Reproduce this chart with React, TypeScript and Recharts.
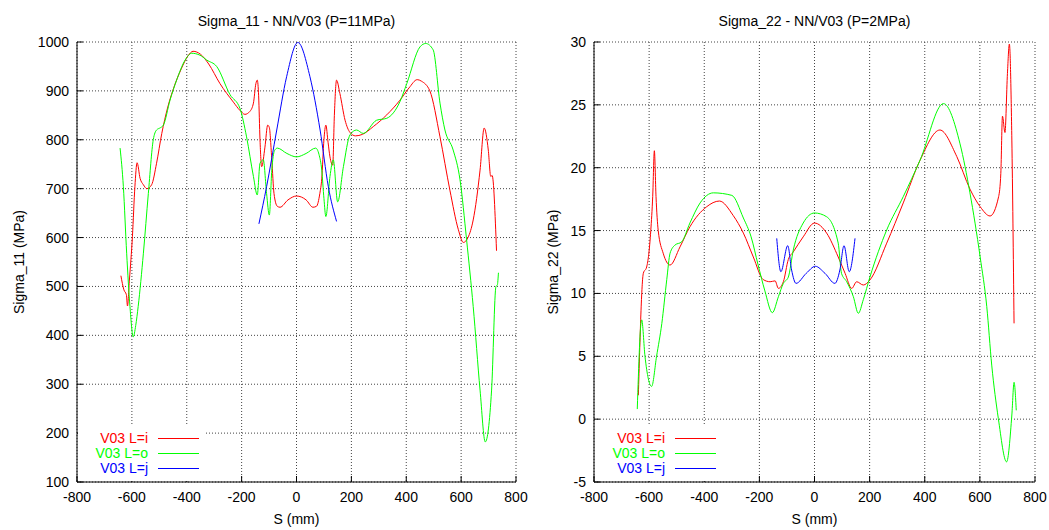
import { LineChart, Line, XAxis, YAxis, CartesianGrid } from "recharts"

const S_TICKS = [-800, -600, -400, -200, 0, 200, 400, 600, 800]
const SIGMA11_TICKS = [100, 200, 300, 400, 500, 600, 700, 800, 900, 1000]
const SIGMA22_TICKS = [-5, 0, 5, 10, 15, 20, 25, 30]

// Sigma_11 (MPa) against S (mm)
const s11_i = [
  [-640, 522], [-629, 493], [-620, 483], [-616, 460], [-609, 513], [-598, 602], [-589, 704], [-581, 753],
  [-570, 721], [-558, 708], [-545, 700], [-528, 708], [-510, 752], [-491, 813], [-470, 865], [-450, 902],
  [-420, 945], [-395, 972], [-377, 981], [-350, 975], [-320, 955], [-279, 915], [-230, 877], [-206, 860],
  [-188, 852], [-170, 858], [-157, 875], [-148, 915], [-143, 922], [-138, 890], [-133, 800], [-127, 745],
  [-115, 785], [-105, 830], [-99, 825], [-90, 759], [-82, 690], [-70, 664], [-60, 662], [-31, 677],
  [0, 685], [35, 677], [60, 662], [73, 664], [85, 690], [92, 720], [100, 800], [107, 830], [115, 795],
  [122, 765], [132, 748], [138, 850], [146, 922], [158, 895], [177, 840], [195, 815], [215, 808],
  [240, 811], [280, 827], [329, 851], [377, 881], [410, 906], [440, 923], [455, 920], [486, 900],
  [523, 806], [559, 697], [590, 616], [608, 590], [625, 600], [644, 636], [669, 738], [684, 824],
  [699, 779], [708, 725], [713, 727], [729, 573],
]
const s11_o = [
  [-643, 783], [-631, 704], [-619, 568], [-607, 459], [-595, 397], [-586, 420], [-577, 459], [-558, 568],
  [-540, 690], [-522, 800], [-510, 820], [-495, 825], [-485, 830], [-461, 881], [-437, 922], [-406, 963],
  [-382, 977], [-352, 973], [-327, 963], [-291, 950], [-242, 892], [-206, 864], [-182, 806], [-157, 725],
  [-143, 687], [-133, 752], [-121, 759], [-109, 690], [-99, 646], [-90, 738], [-80, 778], [-70, 783],
  [-35, 772], [0, 765], [35, 772], [70, 783], [82, 770], [92, 738], [100, 680], [107, 643], [122, 725],
  [134, 759], [150, 673], [171, 745], [195, 810], [219, 820], [243, 813], [292, 840], [329, 844],
  [377, 878], [402, 915], [450, 990], [471, 997], [498, 984], [523, 875], [541, 820], [571, 779],
  [596, 718], [620, 595], [644, 459], [669, 288], [688, 182], [711, 288], [727, 500], [732, 503], [736, 528],
]
const s11_j = [
  [-137, 628], [-109, 704], [-72, 820], [-36, 929], [5, 999], [49, 929], [86, 820], [116, 704], [146, 633],
]

// Sigma_22 (MPa) against S (mm)
const s22_i = [
  [-639, 1.9], [-621, 11.6], [-609, 12.1], [-594, 15.0], [-587, 17.7], [-581, 21.35], [-575, 17.7],
  [-567, 15.0], [-549, 13.2], [-524, 12.26], [-488, 13.7], [-452, 15.3], [-391, 16.9], [-345, 17.35],
  [-295, 16.2], [-258, 14.8], [-222, 12.9], [-186, 11.1], [-161, 10.93], [-143, 11.0], [-131, 10.4],
  [-113, 10.93], [-95, 12.7], [-77, 13.3], [-41, 14.5], [0, 15.6], [44, 14.8], [86, 12.9], [111, 11.6],
  [135, 10.4], [153, 10.93], [177, 10.67], [201, 11.07], [262, 14.0], [322, 17.2], [383, 20.6],
  [455, 23.0], [516, 20.9], [564, 18.3], [601, 16.9], [637, 16.16], [668, 17.7], [676, 19.55],
  [682, 24.1], [691, 22.8], [700, 27.5], [707, 29.84], [716, 22.2], [724, 7.62],
]
const s22_o = [
  [-643, 0.8], [-627, 7.9], [-615, 5.0], [-591, 2.6], [-573, 5.0], [-554, 7.6], [-536, 11.1],
  [-524, 13.2], [-506, 13.85], [-482, 14.1], [-452, 15.6], [-415, 17.2], [-367, 18.0], [-300, 17.8],
  [-258, 16.0], [-230, 14.5], [-205, 12.3], [-180, 10.2], [-153, 8.47], [-131, 9.74], [-113, 10.8],
  [-95, 11.3], [-77, 13.45], [-41, 15.6], [0, 16.4], [44, 16.1], [86, 14.0], [98, 11.6], [117, 10.93],
  [141, 9.74], [159, 8.42], [177, 9.5], [201, 11.3], [262, 15.05], [322, 17.7], [383, 20.6],
  [468, 25.1], [528, 21.9], [564, 18.0], [601, 12.9], [625, 8.95], [643, 4.3], [667, 0.05],
  [697, -3.4], [716, 0.33], [724, 2.93], [732, 0.7],
]
const s22_j = [
  [-137, 14.38], [-122, 11.73], [-97, 13.8], [-83, 11.86], [-67, 10.8], [-30, 11.6], [3, 12.16],
  [38, 11.6], [74, 10.8], [92, 11.86], [107, 13.8], [126, 11.73], [147, 14.38],
]

const LABELS = ["V03 L=i", "V03 L=o", "V03 L=j"]
const COLORS = ["#ff0000", "#00ff00", "#0000ff"]

const toRows = (pts: number[][]) => pts.map(([s, v]) => ({ s, v }))

const FONT = '"Liberation Sans", Arial, Helvetica, sans-serif'

type PanelProps = {
  left: number
  width: number
  marginLeft: number
  marginRight: number
  title: string
  yLabel: string
  yLabelX: number
  yDomain: [number, number]
  yTicks: number[]
  series: number[][][]
}

function Panel({ left, width, marginLeft, marginRight, title, yLabel, yLabelX, yDomain, yTicks, series }: PanelProps) {
  const plotLeft = marginLeft + 50
  const plotRight = width - marginRight
  const cx = (plotLeft + plotRight) / 2
  const axisLine = { stroke: "#000" }
  const tick = { fill: "#000", fontSize: 14 }

  return (
    <div style={{ position: "absolute", left, top: 0, width, height: 530 }}>
      <LineChart width={width} height={530} margin={{ top: 42, right: marginRight, bottom: 18, left: marginLeft }}>
        <CartesianGrid stroke="#444" strokeDasharray="1 2" />
        <XAxis
          dataKey="s"
          type="number"
          domain={[-800, 800]}
          ticks={S_TICKS}
          interval={0}
          height={30}
          tickSize={-6}
          tickMargin={16}
          axisLine={axisLine}
          tickLine={axisLine}
          tick={tick}
        />
        <XAxis
          xAxisId="top"
          orientation="top"
          dataKey="s"
          type="number"
          domain={[-800, 800]}
          ticks={S_TICKS}
          interval={0}
          height={0}
          tickSize={-6}
          axisLine={axisLine}
          tickLine={axisLine}
          tick={false}
        />
        <YAxis
          type="number"
          domain={yDomain}
          ticks={yTicks}
          interval={0}
          width={50}
          tickSize={-6}
          tickMargin={14}
          axisLine={axisLine}
          tickLine={axisLine}
          tick={tick}
        />
        <YAxis
          yAxisId="right"
          orientation="right"
          type="number"
          domain={yDomain}
          ticks={yTicks}
          interval={0}
          width={0}
          tickSize={-6}
          axisLine={axisLine}
          tickLine={axisLine}
          tick={false}
        />
        {series.map((pts, i) => (
          <Line
            key={LABELS[i]}
            data={toRows(pts)}
            dataKey="v"
            type="monotone"
            stroke={COLORS[i]}
            strokeWidth={1}
            dot={false}
            isAnimationActive={false}
          />
        ))}
      </LineChart>

      <div style={{ position: "absolute", left: cx, top: 21, transform: "translate(-50%,-50%)", whiteSpace: "nowrap", fontSize: 14, lineHeight: 1 }}>
        {title}
      </div>
      <div style={{ position: "absolute", left: cx, top: 519, transform: "translate(-50%,-50%)", whiteSpace: "nowrap", fontSize: 14, lineHeight: 1 }}>
        S (mm)
      </div>
      <div style={{ position: "absolute", left: yLabelX, top: 262, transform: "translate(-50%,-50%) rotate(-90deg)", whiteSpace: "nowrap", fontSize: 14, lineHeight: 1 }}>
        {yLabel}
      </div>

      <div style={{ position: "absolute", left: plotLeft + 1, top: 426, width: 127, height: 55, background: "#fff" }}>
        {LABELS.map((label, i) => (
          <div key={label} style={{ position: "absolute", left: 0, top: 5 + i * 15, width: 127, height: 14 }}>
            <span style={{ position: "absolute", right: 127 - 70, top: 0, color: COLORS[i], fontSize: 14, lineHeight: "14px", whiteSpace: "nowrap" }}>
              {label}
            </span>
            <span style={{ position: "absolute", left: 80, top: 7, width: 41, height: 1, background: COLORS[i] }} />
          </div>
        ))}
      </div>
    </div>
  )
}

export default function App() {
  return (
    <div style={{ position: "absolute", left: 0, top: 0, width: 1049, height: 530, background: "#fff", fontFamily: FONT, color: "#000" }}>
      <Panel
        left={0}
        width={545}
        marginLeft={27}
        marginRight={29}
        title="Sigma_11 - NN/V03 (P=11MPa)"
        yLabel="Sigma_11 (MPa)"
        yLabelX={18.5}
        yDomain={[100, 1000]}
        yTicks={SIGMA11_TICKS}
        series={[s11_i, s11_o, s11_j]}
      />
      <Panel
        left={525}
        width={524}
        marginLeft={19}
        marginRight={14}
        title="Sigma_22 - NN/V03 (P=2MPa)"
        yLabel="Sigma_22 (MPa)"
        yLabelX={27.5}
        yDomain={[-5, 30]}
        yTicks={SIGMA22_TICKS}
        series={[s22_i, s22_o, s22_j]}
      />
    </div>
  )
}
